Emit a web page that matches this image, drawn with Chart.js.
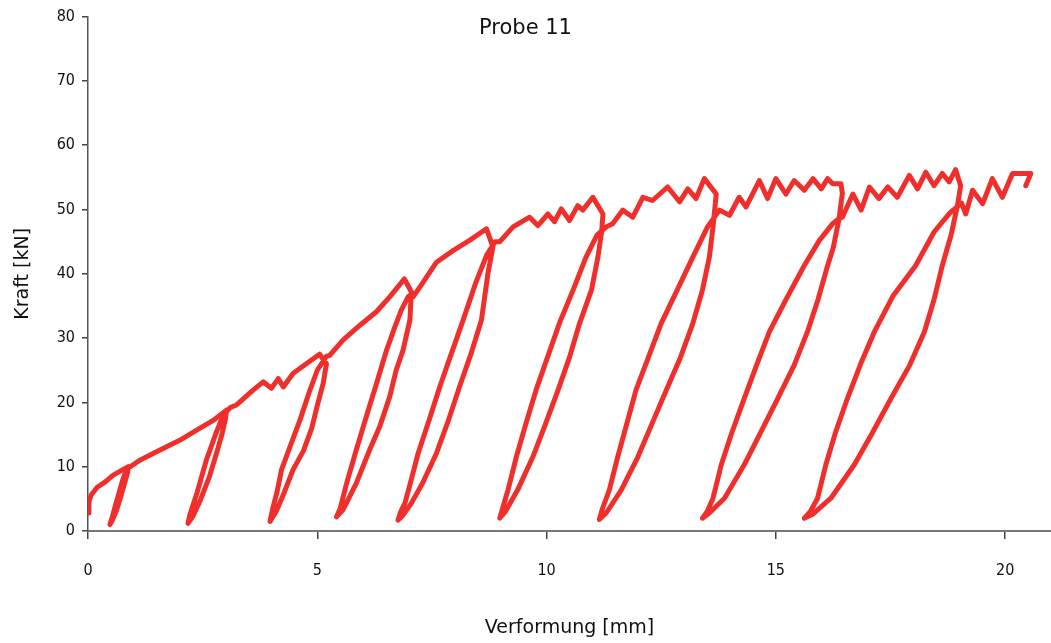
<!DOCTYPE html>
<html>
<head>
<meta charset="utf-8">
<script src="https://cdn.jsdelivr.net/npm/chart.js@4/dist/chart.umd.min.js"></script>
<style>
  html, body { margin: 0; padding: 0; background: #fff; }
  #wrap { width: 1051px; height: 643px; }
</style>
</head>
<body>
<div id="wrap"><canvas id="myChart"></canvas></div>
<script>
// Verformung [mm] und Kraft [kN], Punkt fuer Punkt entlang der Messkurve
var verformung = [
  0.0, 0.02, 0.07, 0.2, 0.37, 0.55, 0.75, 0.88,
  0.86, 0.8, 0.72, 0.62, 0.52, 0.48,
  0.53, 0.6, 0.68, 0.76, 0.84,
  1.13, 1.57, 2.0, 2.37, 2.73, 3.02,
  3.0, 2.92, 2.82, 2.65, 2.45, 2.28, 2.18,
  2.22, 2.38, 2.58, 2.78, 2.95, 3.1,
  3.24, 3.6, 3.82, 4.0, 4.15, 4.26, 4.47, 4.76, 5.05,
  5.2, 5.13, 5.0, 4.88, 4.7, 4.47, 4.28, 4.1, 3.97,
  4.03, 4.12, 4.22, 4.4, 4.62, 4.82, 5.0, 5.2,
  5.27, 5.56, 5.93, 6.29, 6.58, 6.9,
  7.05, 7.02, 6.87, 6.72, 6.58, 6.36, 6.14, 5.85, 5.56, 5.42,
  5.5, 5.64, 5.85, 6.07, 6.29, 6.51, 6.69, 6.83, 6.98, 7.08,
  7.09, 7.31, 7.6, 7.96, 8.32, 8.69,
  8.83, 8.72, 8.58, 8.35, 8.1, 7.85, 7.6, 7.3, 7.05, 6.85, 6.76,
  6.82, 6.91, 7.05, 7.2, 7.45, 7.67, 7.92, 8.18, 8.45, 8.7, 8.88,
  8.98, 9.27, 9.63, 9.81, 10.03, 10.17, 10.32, 10.5, 10.68, 10.79, 11.01,
  11.23, 11.2, 11.12, 10.98, 10.72, 10.5, 10.25, 9.98, 9.7, 9.37, 9.1, 8.98,
  9.04, 9.16, 9.34, 9.55, 9.77, 10.02, 10.28, 10.58, 10.86, 11.1, 11.3,
  11.44, 11.66, 11.88, 12.1, 12.31, 12.64, 12.9, 13.08, 13.26, 13.44,
  13.7, 13.63, 13.55, 13.4, 13.19, 12.92, 12.61, 12.3, 11.99, 11.63, 11.3, 11.15,
  11.22, 11.37, 11.55, 11.75, 11.95, 12.22, 12.5, 12.85, 13.19, 13.51, 13.77,
  13.99, 14.2, 14.35, 14.64, 14.82, 15.0, 15.22, 15.4, 15.62, 15.81, 15.99, 16.13, 16.24, 16.42,
  16.45, 16.38, 16.25, 16.13, 15.92, 15.69, 15.4, 15.04, 14.68, 14.31, 13.88, 13.55, 13.4,
  13.5, 13.63, 13.81, 14.05, 14.31, 14.58, 14.86, 15.22, 15.62, 15.95, 16.24, 16.38,
  16.45, 16.68, 16.86, 17.04, 17.25, 17.44, 17.65, 17.91, 18.09, 18.27, 18.45, 18.63, 18.78, 18.92,
  19.03, 18.96, 18.82, 18.63, 18.45, 18.24, 17.92, 17.51, 17.1, 16.71, 16.2, 15.8, 15.62,
  15.75, 15.91, 16.09, 16.3, 16.56, 16.85, 17.15, 17.55, 18.05, 18.45, 18.8, 19.05,
  19.14, 19.29, 19.51, 19.72, 19.94, 20.16, 20.56, 20.45
]
var kraft = [
  2.8, 4.5, 5.6, 6.8, 7.6, 8.7, 9.5, 10.0,
  9.0, 7.5, 5.5, 3.2, 1.5, 1.0,
  2.2, 4.0, 6.0, 8.0, 9.6,
  11.0, 12.6, 14.1, 15.7, 17.2, 18.8,
  17.5, 15.0, 12.5, 8.5, 4.8, 2.2, 1.2,
  2.5, 6.0, 11.0, 15.0, 18.0, 19.2,
  19.6, 21.9, 23.2, 22.2, 23.7, 22.4, 24.5, 26.0, 27.5,
  26.0, 23.0, 19.5, 16.0, 12.5, 9.5, 6.0, 3.0, 1.5,
  3.5, 6.0, 9.5, 13.0, 17.2, 21.5, 25.0, 27.2,
  27.3, 29.7, 32.0, 34.1, 36.4, 39.2,
  37.2, 32.8, 28.1, 25.0, 20.9, 16.2, 12.6, 7.4, 3.3, 2.2,
  3.5, 7.4, 12.6, 17.8, 22.9, 28.1, 31.7, 34.3, 36.4, 37.0,
  36.4, 38.7, 41.8, 43.6, 45.2, 47.0,
  44.2, 40.0, 32.8, 27.5, 22.4, 17.0, 12.1, 7.5, 4.3, 2.3, 1.7,
  3.0, 4.3, 8.0, 12.1, 17.5, 22.4, 27.5, 32.8, 38.5, 43.0, 45.0,
  45.0, 47.3, 48.8, 47.5, 49.3, 48.1, 50.1, 48.3, 50.6, 49.9, 51.9,
  49.3, 46.5, 42.6, 37.5, 32.3, 27.0, 21.9, 16.7, 11.5, 6.4, 3.0, 2.0,
  3.5, 6.4, 11.5, 16.7, 21.9, 27.0, 32.3, 37.5, 42.6, 46.0, 47.3,
  47.8, 49.9, 48.8, 51.9, 51.4, 53.5, 51.2, 53.2, 51.7, 54.8,
  52.4, 47.3, 42.6, 37.5, 32.3, 27.0, 21.9, 16.7, 11.5, 6.4, 2.8, 1.8,
  3.5, 6.4, 11.5, 16.7, 21.9, 27.0, 32.3, 37.5, 42.6, 47.3, 49.9,
  49.1, 51.9, 50.4, 54.5, 51.7, 54.8, 52.4, 54.5, 53.0, 54.8, 53.2, 54.8, 54.0, 54.0,
  52.5, 48.6, 44.0, 41.3, 36.0, 31.0, 25.8, 20.6, 15.5, 10.3, 5.1, 2.8, 2.0,
  3.0, 5.1, 10.3, 15.5, 20.6, 25.8, 31.0, 36.0, 41.3, 45.2, 47.8, 48.6,
  48.8, 52.4, 49.9, 53.5, 51.7, 53.5, 51.9, 55.3, 53.2, 55.8, 53.7, 55.6, 54.3, 56.2,
  53.7, 50.6, 46.0, 41.3, 36.0, 31.0, 25.8, 20.6, 15.2, 10.3, 5.1, 2.6, 2.0,
  3.0, 5.1, 10.3, 15.3, 20.6, 26.0, 31.0, 36.5, 41.3, 46.5, 49.5, 51.0,
  49.3, 53.0, 50.9, 54.8, 51.9, 55.6, 55.6, 53.7
]
var xTicks = [0, 5, 10, 15, 20]
var yTicks = [0, 10, 20, 30, 40, 50, 60, 70, 80]

var punkte = verformung.map(function (v, i) { return { x: v, y: kraft[i] } })

var tickFont = { family: '"Liberation Sans Narrow", "DejaVu Sans Condensed", Roboto, sans-serif', size: 16 }
var titleFont = { family: '"DejaVu Sans", sans-serif', size: 19 }

// Titel "Probe 11" sitzt im Diagramm, nicht darueber
var probeTitel = {
  id: 'probeTitel',
  afterDraw: function (chart) {
    var c = chart.ctx
    c.save()
    c.fillStyle = '#111'
    c.font = '21px "DejaVu Sans", sans-serif'
    c.textAlign = 'center'
    c.textBaseline = 'middle'
    c.fillText('Probe 11', chart.width / 2, 29)
    c.restore()
  }
}

var ctx = document.getElementById('myChart').getContext('2d')
var chart = new Chart(ctx, {
  type: 'scatter',
  data: {
    datasets: [{
      label: 'Probe 11',
      data: punkte,
      showLine: true,
      borderColor: '#ee2f2b',
      backgroundColor: '#ee2f2b',
      borderWidth: 5,
      borderJoinStyle: 'round',
      borderCapStyle: 'round',
      pointRadius: 0,
      tension: 0
    }]
  },
  options: {
    responsive: true,
    maintainAspectRatio: false,
    animation: false,
    layout: { padding: { top: 16, right: 0, left: 0, bottom: 0 } },
    plugins: {
      legend: { display: false },
      tooltip: { enabled: false }
    },
    scales: {
      x: {
        type: 'linear',
        min: 0,
        max: 21,
        afterBuildTicks: function (s) { s.ticks = xTicks.map(function (v) { return { value: v } }) },
        afterFit: function (s) { s.height = 112 },
        grid: { drawOnChartArea: false, drawTicks: true, tickLength: 8, color: '#444', lineWidth: 1.5 },
        border: { display: true, color: '#777', width: 2 },
        ticks: { font: tickFont, color: '#111', padding: 22, maxRotation: 0 },
        title: { display: true, text: 'Verformung [mm]', font: titleFont, color: '#111', padding: { top: 20 } }
      },
      y: {
        min: 0,
        max: 80,
        afterBuildTicks: function (s) { s.ticks = yTicks.map(function (v) { return { value: v } }) },
        afterFit: function (s) { s.width = 88 },
        grid: { drawOnChartArea: false, drawTicks: true, tickLength: 6, color: '#444', lineWidth: 1.5 },
        border: { display: true, color: '#555', width: 1.5 },
        ticks: { font: tickFont, color: '#111', padding: 7 },
        title: { display: true, text: 'Kraft [kN]', font: titleFont, color: '#111', padding: { top: 12, bottom: 10 } }
      }
    }
  },
  plugins: [probeTitel]
})
</script>
</body>
</html>
